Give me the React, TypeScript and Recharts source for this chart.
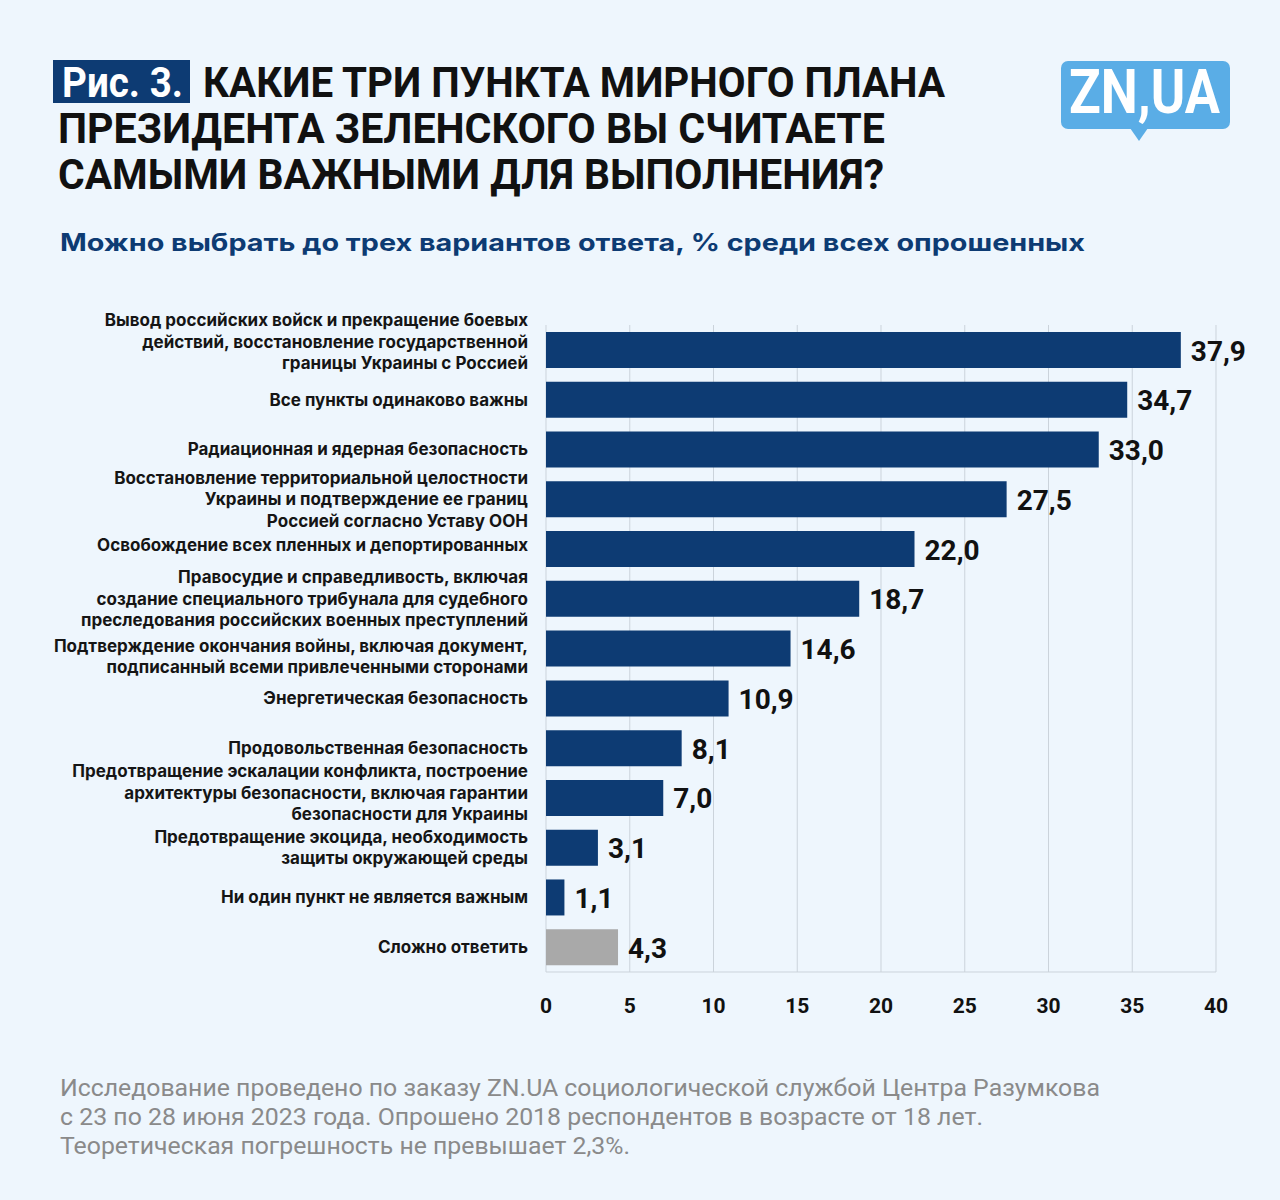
import { BarChart, Bar, XAxis, YAxis, CartesianGrid, Cell, LabelList } from 'recharts';

const categories = [
  'Вывод российских войск и прекращение боевых\nдействий, восстановление государственной\nграницы Украины с Россией',
  'Все пункты одинаково важны',
  'Радиационная и ядерная безопасность',
  'Восстановление территориальной целостности\nУкраины и подтверждение ее границ\nРоссией согласно Уставу ООН',
  'Освобождение всех пленных и депортированных',
  'Правосудие и справедливость, включая\nсоздание специального трибунала для судебного\nпреследования российских военных преступлений',
  'Подтверждение окончания войны, включая документ,\nподписанный всеми привлеченными сторонами',
  'Энергетическая безопасность',
  'Продовольственная безопасность',
  'Предотвращение эскалации конфликта, построение\nархитектуры безопасности, включая гарантии\nбезопасности для Украины',
  'Предотвращение экоцида, необходимость\nзащиты окружающей среды',
  'Ни один пункт не является важным',
  'Сложно ответить',
];

const values = [37.9, 34.7, 33.0, 27.5, 22.0, 18.7, 14.6, 10.9, 8.1, 7.0, 3.1, 1.1, 4.3];

const xTicks = [0, 5, 10, 15, 20, 25, 30, 35, 40];

const grayCategories = ['Сложно ответить'];

const titleLines = [
  'КАКИЕ ТРИ ПУНКТА МИРНОГО ПЛАНА',
  'ПРЕЗИДЕНТА ЗЕЛЕНСКОГО ВЫ СЧИТАЕТЕ',
  'САМЫМИ ВАЖНЫМИ ДЛЯ ВЫПОЛНЕНИЯ?',
];
const subtitle = 'Можно выбрать до трех вариантов ответа, % среди всех опрошенных';
const footerLines = [
  'Исследование проведено по заказу ZN.UA социологической службой Центра Разумкова',
  'с 23 по 28 июня 2023 года. Опрошено 2018 респондентов в возрасте от 18 лет.',
  'Теоретическая погрешность не превышает 2,3%.',
];

const NAVY = '#0D3B73';
const GRAY = '#A9A9A9';
const BG = '#EEF6FD';

const data = categories.map((name, i) => ({ name, value: values[i] }));

// small vertical nudges of some labels, as in the original layout
const labelNudge = [-8, 0, 0, 0, -4, 0, 8, 0, 0, -5, 0, 0, 0];

const CategoryTick = ({ x, y, payload, index }: any) => {
  const lines: string[] = String(payload.value).split('\n');
  const lh = 21.5;
  const start = -((lines.length - 1) * lh) / 2 + (labelNudge[index] || 0);
  return (
    <text x={x} y={y} textAnchor="end" fontFamily="Inter" fontWeight={700} fontSize={17} fill="#151515">
      {lines.map((l, i) => (
        <tspan key={i} x={x} y={y + start + i * lh} dominantBaseline="central">
          {l}
        </tspan>
      ))}
    </text>
  );
};

const ValueLabel = ({ x, y, width, height, value }: any) => (
  <text
    x={x + width + 10}
    y={y + height / 2 + 1}
    dominantBaseline="central"
    fontFamily="Roboto"
    fontWeight={700}
    fontSize={28}
    fill="#111"
  >
    {Number(value).toFixed(1).replace('.', ',')}
  </text>
);

export default function App() {
  return (
    <div style={{ position: 'absolute', left: 0, top: 0, width: 1280, height: 1200, background: BG, overflow: 'hidden' }}>
      <div style={{ position: 'absolute', left: 0, top: 0 }}>
        <BarChart
          width={1280}
          height={1040}
          data={data}
          layout="vertical"
          margin={{ top: 325, right: 64, bottom: 18, left: 0 }}
          barSize={36}
        >
          <CartesianGrid horizontal={false} stroke="#CBD3DB" />
          <XAxis
            type="number"
            domain={[0, 40]}
            ticks={xTicks}
            height={50}
            axisLine={{ stroke: '#CBD3DB' }}
            tickLine={false}
            tickMargin={20}
            tick={{ fontFamily: 'Roboto', fontWeight: 700, fontSize: 21, fill: '#111' }}
          />
          <YAxis
            type="category"
            dataKey="name"
            width={546}
            axisLine={false}
            tickLine={false}
            tickSize={0}
            tickMargin={18}
            interval={0}
            tick={<CategoryTick />}
          />
          <Bar dataKey="value" isAnimationActive={false}>
            {data.map((d) => (
              <Cell key={d.name} fill={grayCategories.includes(d.name) ? GRAY : NAVY} />
            ))}
            <LabelList dataKey="value" content={<ValueLabel />} />
          </Bar>
        </BarChart>
      </div>
      <svg width={1280} height={1200} style={{ position: 'absolute', left: 0, top: 0, pointerEvents: 'none' }}>
        <rect x={53} y={60} width={137} height={43} fill={NAVY} />
        <text x={62} y={97} fontFamily="Roboto" fontWeight={700} fontSize={43} fill="#fff" textLength={121} lengthAdjust="spacingAndGlyphs">
          Рис. 3.
        </text>
        <text x={203} y={97} fontFamily="Roboto" fontWeight={700} fontSize={43} fill="#111" textLength={742} lengthAdjust="spacingAndGlyphs">
          {titleLines[0]}
        </text>
        <text x={58} y={143} fontFamily="Roboto" fontWeight={700} fontSize={43} fill="#111" textLength={827} lengthAdjust="spacingAndGlyphs">
          {titleLines[1]}
        </text>
        <text x={58} y={189} fontFamily="Roboto" fontWeight={700} fontSize={43} fill="#111" textLength={826} lengthAdjust="spacingAndGlyphs">
          {titleLines[2]}
        </text>
        <text x={60} y={251} fontFamily="Inter" fontWeight={700} fontSize={24} fill={NAVY} textLength={1025} lengthAdjust="spacingAndGlyphs">
          {subtitle}
        </text>

        {/* logo */}
        <rect x={1061} y={61} width={169} height={68} rx={7} fill="#5AADE6" />
        <polygon points="1130,128 1148,128 1139,141" fill="#5AADE6" />
        <text x={1069} y={113} fontFamily="Roboto" fontWeight={700} fontSize={61} fill="#fff" textLength={151} lengthAdjust="spacingAndGlyphs">
          ZN,UA
        </text>

        <text x={60} y={1096} fontFamily="Roboto" fontSize={23} fill="#8A8A8A" textLength={1040} lengthAdjust="spacingAndGlyphs">
          {footerLines[0]}
        </text>
        <text x={60} y={1125} fontFamily="Roboto" fontSize={23} fill="#8A8A8A" textLength={923} lengthAdjust="spacingAndGlyphs">
          {footerLines[1]}
        </text>
        <text x={60} y={1154} fontFamily="Roboto" fontSize={23} fill="#8A8A8A" textLength={570} lengthAdjust="spacingAndGlyphs">
          {footerLines[2]}
        </text>
      </svg>
    </div>
  );
}
